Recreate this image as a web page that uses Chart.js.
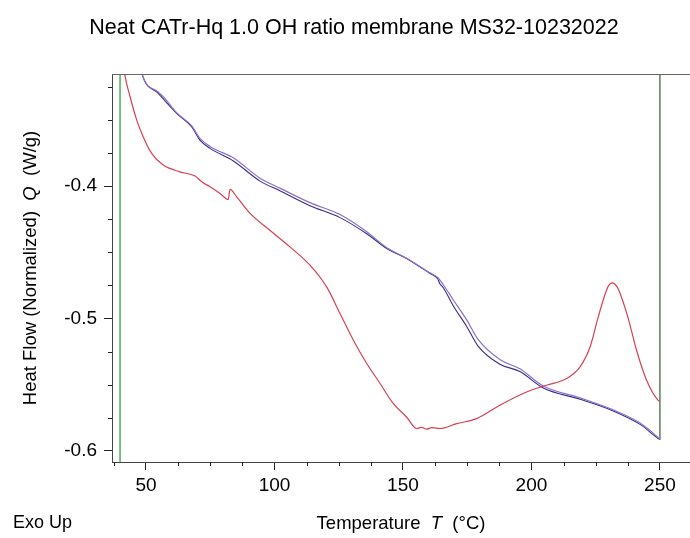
<!DOCTYPE html>
<html><head><meta charset="utf-8">
<script src="https://cdn.jsdelivr.net/npm/chart.js@4.4.0/dist/chart.umd.min.js"></script>
<style>html,body{margin:0;padding:0;background:#fff;} #wrap{width:690px;height:538px;position:relative;}</style>
</head><body><div id="wrap"><canvas id="c"></canvas></div>
<script>
const titleText = 'Neat CATr-Hq 1.0 OH ratio membrane MS32-10232022';
const xTicks = [50, 100, 150, 200, 250];
const yTicks = [-0.6, -0.5, -0.4];
const xMinorTicks = [37.5, 62.5, 75, 87.5, 112.5, 125, 137.5, 162.5, 175, 187.5, 212.5, 225, 237.5];
const yMinorTicks = [-0.575, -0.55, -0.525, -0.475, -0.45, -0.425, -0.375, -0.35, -0.325];

const redT = [40.8, 41.8, 43.8, 46.4, 48.9, 52.2, 56.7, 63.2, 69.1, 71.7, 74.9, 78.8, 82.0, 82.7, 85.3, 90.5, 98.2, 106.0, 113.8, 120.3, 125.5, 130.7, 135.9, 141.1, 146.2, 151.4, 155.3, 157.2, 159.2, 161.3, 164.4, 170.9, 178.7, 187.7, 198.1, 205.9, 213.7, 218.9, 222.8, 226.0, 229.2, 230.3, 231.5, 232.7, 234.0, 237.5, 240.9, 244.8, 249.3, 250.0];
const redQ = [-0.300, -0.3161, -0.3325, -0.3501, -0.3627, -0.3753, -0.3841, -0.3892, -0.3924, -0.3967, -0.4005, -0.4055, -0.4101, -0.4025, -0.4081, -0.4206, -0.4333, -0.4459, -0.4597, -0.4761, -0.4962, -0.5164, -0.5340, -0.5491, -0.5642, -0.5744, -0.5831, -0.5822, -0.5836, -0.5824, -0.5831, -0.5794, -0.5756, -0.5655, -0.5555, -0.5504, -0.5454, -0.5366, -0.5215, -0.4988, -0.4786, -0.4745, -0.4731, -0.4745, -0.4786, -0.4988, -0.5240, -0.5466, -0.5618, -0.5625];

const navyT = [47.5, 48.6, 54.8, 61.9, 67.8, 71.0, 74.9, 84.0, 94.4, 102.1, 113.8, 125.5, 135.9, 143.7, 151.4, 160.5, 163.5, 164.3, 165.7, 169.6, 174.8, 179.3, 187.7, 195.5, 204.6, 218.9, 231.8, 242.3, 249.3, 250.0];
const navyQ = [-0.305, -0.3161, -0.3299, -0.3450, -0.3552, -0.3652, -0.3715, -0.3810, -0.3962, -0.4035, -0.4148, -0.4238, -0.4360, -0.4471, -0.4546, -0.4660, -0.4700, -0.4735, -0.4768, -0.4905, -0.5060, -0.5210, -0.5345, -0.5400, -0.5525, -0.5610, -0.5698, -0.5800, -0.5907, -0.5915];

const lilacT = [47.5, 48.6, 54.8, 57.0, 61.9, 67.8, 71.0, 74.9, 83.0, 84.0, 94.4, 102.1, 113.8, 125.5, 135.9, 143.7, 151.4, 160.5, 163.5, 165.7, 169.6, 174.8, 179.3, 187.7, 195.5, 204.6, 218.9, 231.8, 242.3, 249.3, 250.0];
const lilacQ = [-0.305, -0.3161, -0.3290, -0.3330, -0.3445, -0.3545, -0.3640, -0.3700, -0.3775, -0.3785, -0.3940, -0.4015, -0.4125, -0.4215, -0.4345, -0.4465, -0.4545, -0.4655, -0.4690, -0.4745, -0.4860, -0.5010, -0.5160, -0.5310, -0.5380, -0.5510, -0.5600, -0.5690, -0.5790, -0.5900, -0.5915];

const greenLeftT = [39.9, 39.9];
const greenLeftQ = [-0.65, -0.28];
const greenRightT = [250.0, 250.0];
const greenRightQ = [-0.5915, -0.28];

const toXY = (ts, qs) => ts.map((t, i) => ({x: t, y: qs[i]}));
const FONT = "'Liberation Sans', Arial, sans-serif";
Chart.defaults.font.family = FONT;
Chart.defaults.color = '#000';

function drawRich(ctx, parts, cx, cy, size) {
  const widths = parts.map(p => { ctx.font = (p.i ? 'italic ' : '') + size + 'px ' + FONT; return ctx.measureText(p.t).width; });
  const total = widths.reduce((a, b) => a + b, 0);
  let x = cx - total / 2;
  ctx.textBaseline = 'middle'; ctx.textAlign = 'left'; ctx.fillStyle = '#000';
  parts.forEach((p, i) => { ctx.font = (p.i ? 'italic ' : '') + size + 'px ' + FONT; ctx.fillText(p.t, x, cy); x += widths[i]; });
}

const decor = {
  id: 'decor',
  afterDraw(chart) {
    const {ctx, chartArea: a, scales: {x, y}} = chart;
    ctx.save();
    ctx.strokeStyle = '#222'; ctx.lineWidth = 1;
    ctx.beginPath();
    xMinorTicks.forEach(v => { const px = Math.round(x.getPixelForValue(v)) + 0.5; ctx.moveTo(px, a.bottom); ctx.lineTo(px, a.bottom + 4); });
    yMinorTicks.forEach(v => { const py = Math.round(y.getPixelForValue(v)) + 0.5; ctx.moveTo(a.left - 4, py); ctx.lineTo(a.left, py); });
    ctx.stroke();
    ctx.strokeStyle = '#666';
    ctx.beginPath(); ctx.moveTo(a.left, Math.round(a.top) + 0.5); ctx.lineTo(a.right, Math.round(a.top) + 0.5); ctx.stroke();
    drawRich(ctx, [{t: 'Temperature  '}, {t: 'T', i: true}, {t: '  (°C)'}], (a.left + a.right) / 2, 524, 18.5);
    ctx.save();
    ctx.translate(31, (a.top + a.bottom) / 2);
    ctx.rotate(-Math.PI / 2);
    drawRich(ctx, [{t: 'Heat Flow (Normalized)  '}, {t: 'Q', i: true}, {t: '  (W/g)'}], 0, 0, 18.5);
    ctx.restore();
    ctx.font = '18px ' + FONT; ctx.textAlign = 'left'; ctx.textBaseline = 'middle'; ctx.fillStyle = '#000';
    ctx.fillText('Exo Up', 13, 523);
    ctx.restore();
  }
};

new Chart(document.getElementById('c'), {
  type: 'line',
  data: {
    datasets: [
      {label: 'Heat', data: toXY(redT, redQ), borderColor: '#d8404f', borderWidth: 1.2, pointRadius: 0, cubicInterpolationMode: 'monotone'},
      {label: 'Cool', data: toXY(lilacT, lilacQ), borderColor: '#8c70c6', borderWidth: 1.2, pointRadius: 0, cubicInterpolationMode: 'monotone'},
      {label: 'Reheat', data: toXY(navyT, navyQ), borderColor: '#382c8a', borderWidth: 1.1, pointRadius: 0, cubicInterpolationMode: 'monotone'},
      {label: 'Start', data: toXY(greenLeftT, greenLeftQ), borderColor: '#4caf55', borderWidth: 1.5, pointRadius: 0},
      {label: 'End', data: toXY(greenRightT, greenRightQ), borderColor: '#3e6b45', borderWidth: 1.3, pointRadius: 0}
    ]
  },
  options: {
    responsive: true, maintainAspectRatio: false, animation: false,
    devicePixelRatio: 1,
    layout: {padding: {left: 18, right: 0, top: 0, bottom: 0}},
    plugins: {
      legend: {display: false}, tooltip: {enabled: false},
      title: {display: true, text: titleText, color: '#000', font: {size: 21.5, weight: 'normal', family: FONT, lineHeight: 1.2}, padding: {top: 15, bottom: 33.2}}
    },
    scales: {
      x: {
        type: 'linear', min: 36.77, max: 261.7,
        afterFit: s => { s.height = 76; },
        afterBuildTicks: s => { s.ticks = xTicks.map(v => ({value: v})); },
        ticks: {font: {size: 19}, color: '#000', padding: 4, maxRotation: 0, callback: v => String(v)},
        grid: {drawOnChartArea: false, drawTicks: true, tickLength: 8, tickColor: '#222'},
        border: {display: true, color: '#444', width: 1}
      },
      y: {
        type: 'linear', min: -0.6084, max: -0.3153,
        afterFit: s => { s.width = 94; },
        afterBuildTicks: s => { s.ticks = yTicks.map(v => ({value: v})); },
        ticks: {font: {size: 19}, color: '#000', padding: 7, callback: v => Number(v).toFixed(1)},
        grid: {drawOnChartArea: false, drawTicks: true, tickLength: 8, tickColor: '#222'},
        border: {display: true, color: '#444', width: 1}
      }
    }
  },
  plugins: [decor]
});
</script></body></html>
